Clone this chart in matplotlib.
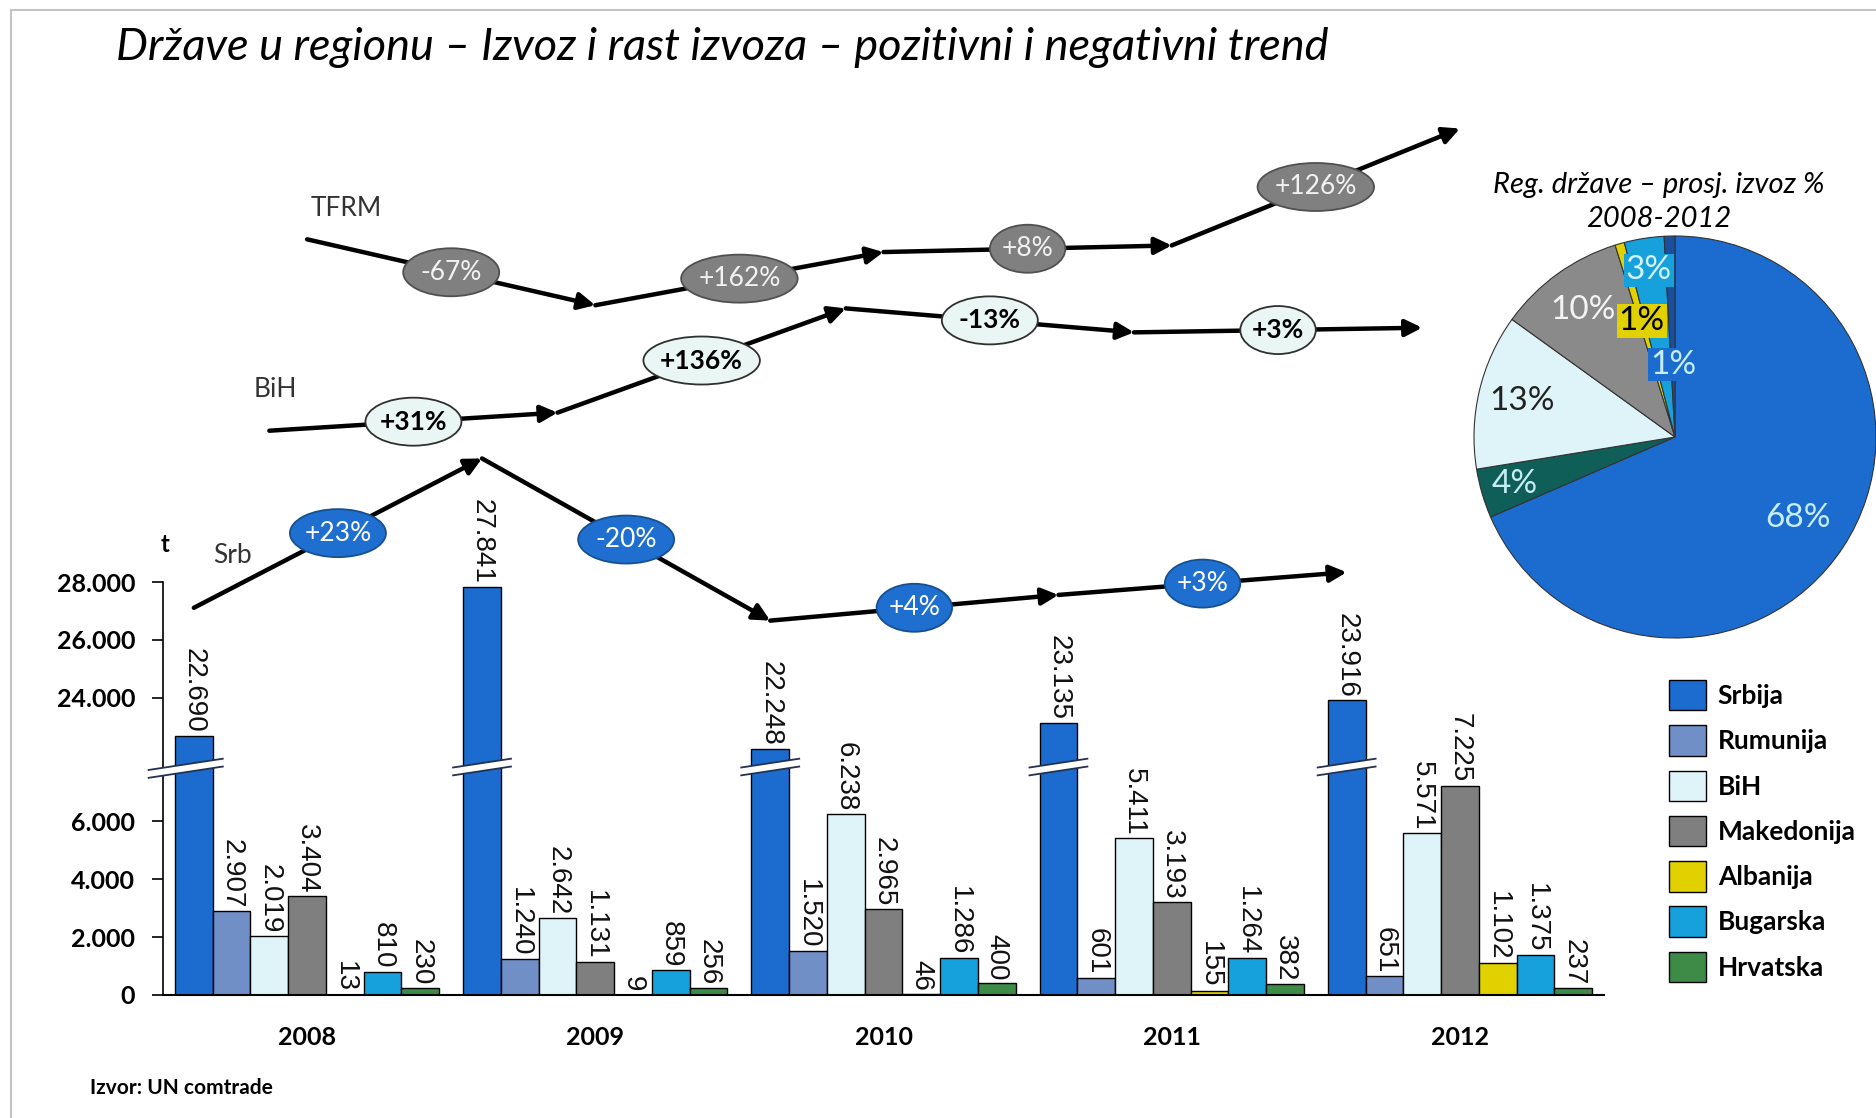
import numpy as np
import matplotlib.pyplot as plt
import matplotlib.transforms as mtransforms
from matplotlib.patches import Polygon, Ellipse
from matplotlib.lines import Line2D

# ---------------- data ----------------
years = ['2008', '2009', '2010', '2011', '2012']
countries = ['Srbija', 'Rumunija', 'BiH', 'Makedonija', 'Albanija', 'Bugarska', 'Hrvatska']

srbija = [22690, 27841, 22248, 23135, 23916]
rumunija = [2907, 1240, 1520, 601, 651]
bih = [2019, 2642, 6238, 5411, 5571]
makedonija = [3404, 1131, 2965, 3193, 7225]
albanija = [13, 9, 46, 155, 1102]
bugarska = [810, 859, 1286, 1264, 1375]
hrvatska = [230, 256, 400, 382, 237]
series = [srbija, rumunija, bih, makedonija, albanija, bugarska, hrvatska]

bar_colors = ['#1c6cd0', '#6f8fc6', '#def4f9', '#7f7f7f', '#e2d100', '#16a0dc', '#3d8b47']
pie_colors = ['#1c6cd0', '#0f5e58', '#def4f9', '#8a8a8a', '#e2d100', '#16a0dc', '#1a4fa0']

# trend arrows (label, series, bar slot)
trend_names = ['TFRM', 'BiH', 'Srb']
trend_series = [makedonija, bih, srbija]
trend_slot = [3, 2, 0]

yticks = [0, 2000, 4000, 6000, 24000, 26000, 28000]


def fmt(v):
    return f"{v:,.0f}".replace(",", ".")


plt.rcParams['font.family'] = ['Lato', 'DejaVu Sans']
fig = plt.figure(figsize=(18.76, 11.18), dpi=100)

# -------------------------------
# BAR CHART WITH BROKEN AXIS
# -------------------------------
L, B, W, H = 163 / 1876, 123 / 1118, 1441 / 1876, 413 / 1118
ax = fig.add_axes([L, B, W, H])

brk_in = [0, 7500, 22000, 200000]
brk_out = [0, 7500, 8244, 186244]
ax.set_yscale('function', functions=(lambda v: np.interp(v, brk_in, brk_out),
                                     lambda v: np.interp(v, brk_out, brk_in)))

x = np.arange(len(years))
bw = 0.131
for k, (vals, col) in enumerate(zip(series, bar_colors)):
    xs = x + (k - 3) * bw
    ax.bar(xs, vals, bw, color=col, edgecolor='black', linewidth=1, label=countries[k], zorder=2)
    for xi, v in zip(xs, vals):
        ax.annotate(fmt(v), (xi, v), xytext=(0, 2), textcoords='offset points',
                    rotation=270, ha='center', va='bottom', fontsize=20,
                    family='Liberation Sans', color='#111111', zorder=4)

ax.set_xlim(-0.5, 4.5)
ax.set_ylim(0, 28000)
ax.set_yticks(yticks)
ax.set_yticklabels([fmt(t) for t in yticks], fontsize=18, fontweight='bold')
ax.set_xticks(x)
ax.set_xticklabels(years, fontsize=18, fontweight='bold')
ax.tick_params(axis='x', length=0, pad=22)
ax.tick_params(axis='y', length=8, width=1.2, pad=12)
for s in ['top', 'right']:
    ax.spines[s].set_visible(False)
ax.spines['left'].set_linewidth(1.2)
ax.spines['bottom'].set_linewidth(1.5)
ax.patch.set_alpha(0)

# break marks on the Srbija bars
brk_tr = mtransforms.blended_transform_factory(ax.transData, ax.transAxes)
yc, slope, gap = 0.552, 0.106, 0.0095
for i in range(len(years)):
    xc = x[i] - 3 * bw
    x0 = xc - bw / 2 - 0.035 if i else -0.55
    x1 = xc + bw / 2 + 0.035
    ya0 = yc + slope * (x0 - xc)
    ya1 = yc + slope * (x1 - xc)
    poly = Polygon([(x0, ya0 - gap), (x1, ya1 - gap), (x1, ya1 + gap), (x0, ya0 + gap)],
                   closed=True, facecolor='white', edgecolor='none',
                   transform=brk_tr, clip_on=False, zorder=3)
    ax.add_patch(poly)
    for d in (-gap, gap):
        ax.add_line(Line2D([x0, x1], [ya0 + d, ya1 + d], color='#22324f', lw=1.3,
                           transform=brk_tr, clip_on=False, zorder=3))

# -------------------------------
# TREND ARROWS OVERLAY
# -------------------------------
tr = fig.add_axes([L, 0, W, 1])
tr.set_xlim(-0.5, 4.5)
tr.set_ylim(-4241, 34318)
tr.axis('off')

trend_offset = [22660, 17444, -9335]
ell_style = [
    dict(fc='#808080', ec='#505050', tc='#f2f2f2', weight='normal'),
    dict(fc='#e9f6f4', ec='#303030', tc='black', weight='bold'),
    dict(fc='#1f6fd0', ec='#17508f', tc='white', weight='normal'),
]
name_offset = [(28, 22), (4, 30), (28, 38)]

for vals, slot, off, st, name, noff in zip(trend_series, trend_slot, trend_offset,
                                            ell_style, trend_names, name_offset):
    xs = x + (slot - 3) * bw
    ys = np.array(vals) + off
    for i in range(len(xs) - 1):
        tr.annotate('', xy=(xs[i + 1], ys[i + 1]), xytext=(xs[i], ys[i]),
                    arrowprops=dict(arrowstyle='-|>,head_length=0.5,head_width=0.25',
                                    color='black', lw=3.2, shrinkA=0, shrinkB=0,
                                    mutation_scale=20), zorder=3)
        g = (vals[i + 1] / vals[i] - 1) * 100
        lab = f"{g:+.0f}%"
        xm, ym = (xs[i] + xs[i + 1]) / 2, (ys[i] + ys[i + 1]) / 2
        ew = 0.14 + 0.205 * len(lab)
        ell = Ellipse((0, 0), ew, 0.48, facecolor=st['fc'], edgecolor=st['ec'], lw=1.3,
                      transform=fig.dpi_scale_trans + mtransforms.ScaledTranslation(xm, ym, tr.transData),
                      zorder=4)
        tr.add_patch(ell)
        tr.text(xm, ym, lab, ha='center', va='center', fontsize=19, color=st['tc'],
                fontweight=st['weight'], zorder=5)
    tr.annotate(name, (xs[0], ys[0]), xytext=noff, textcoords='offset points',
                ha='center', va='center', fontsize=19, color='#333333')

# -------------------------------
# PIE CHART
# -------------------------------
totals = [sum(v) for v in series]
pax = fig.add_axes([1675 / 1876 - 201 / 1876, 1 - 437 / 1118 - 201 / 1118,
                    402 / 1876, 402 / 1118])
wedges, _ = pax.pie(totals, colors=pie_colors, startangle=90, counterclock=False,
                    wedgeprops=dict(edgecolor='#333333', linewidth=0.8))
pax.set_xlim(-1, 1)
pax.set_ylim(-1, 1)

share = np.array(totals) / sum(totals) * 100
lab_r = [0.73, 0.83, 0.78, 0.78, 0.6, 0.84, 0.36]
lab_col = ['#c6eef8', '#c6eef8', '#222222', '#f4f4f4', 'black', '#d4f4ff', '#c6eef8']
lab_box = [None, None, None, None, '#e2d100', '#16a0dc', '#1c6cd0']
for w, s, r, c, bx in zip(wedges, share, lab_r, lab_col, lab_box):
    ang = np.deg2rad((w.theta1 + w.theta2) / 2)
    kw = {}
    if bx:
        kw['bbox'] = dict(boxstyle='square,pad=0.05', fc=bx, ec='none')
    pax.text(r * np.cos(ang), r * np.sin(ang), f"{s:.0f}%", ha='center', va='center',
             fontsize=24, color=c, **kw)

fig.text(1659 / 1876, 1 - 202 / 1118, "Reg. države – prosj. izvoz %\n2008-2012",
         ha='center', va='center', fontsize=21, style='italic', linespacing=1.4)

# legend
handles, labels = ax.get_legend_handles_labels()
fig.legend(handles, labels, loc='upper left', bbox_to_anchor=(1669 / 1876, 1 - 680 / 1118),
           frameon=False, prop=dict(size=19, weight='bold'), handlelength=1.4,
           handleheight=1.4, handletextpad=0.45, labelspacing=0.56,
           borderpad=0, borderaxespad=0)

# -------------------------------
# TEXTS AND FRAME
# -------------------------------
fig.text(116 / 1876, 1 - 48 / 1118, "Države u regionu – Izvoz i rast izvoza – pozitivni i negativni trend",
         ha='left', va='center', fontsize=32.5, style='italic')
fig.text(165 / 1876, 1 - 544 / 1118, "t", ha='center', va='center', fontsize=17, fontweight='bold')
fig.text(90 / 1876, 1 - 1088 / 1118, "Izvor: UN comtrade", ha='left', va='center',
         fontsize=15, fontweight='bold')

fig.add_artist(Line2D([11 / 1876, 11 / 1876], [0, 1 - 10 / 1118], color='#c4c4c4', lw=1.5,
                      transform=fig.transFigure))
fig.add_artist(Line2D([11 / 1876, 1], [1 - 10 / 1118, 1 - 10 / 1118], color='#c4c4c4', lw=1.5,
                      transform=fig.transFigure))

fig.savefig('out.png', dpi=100)
